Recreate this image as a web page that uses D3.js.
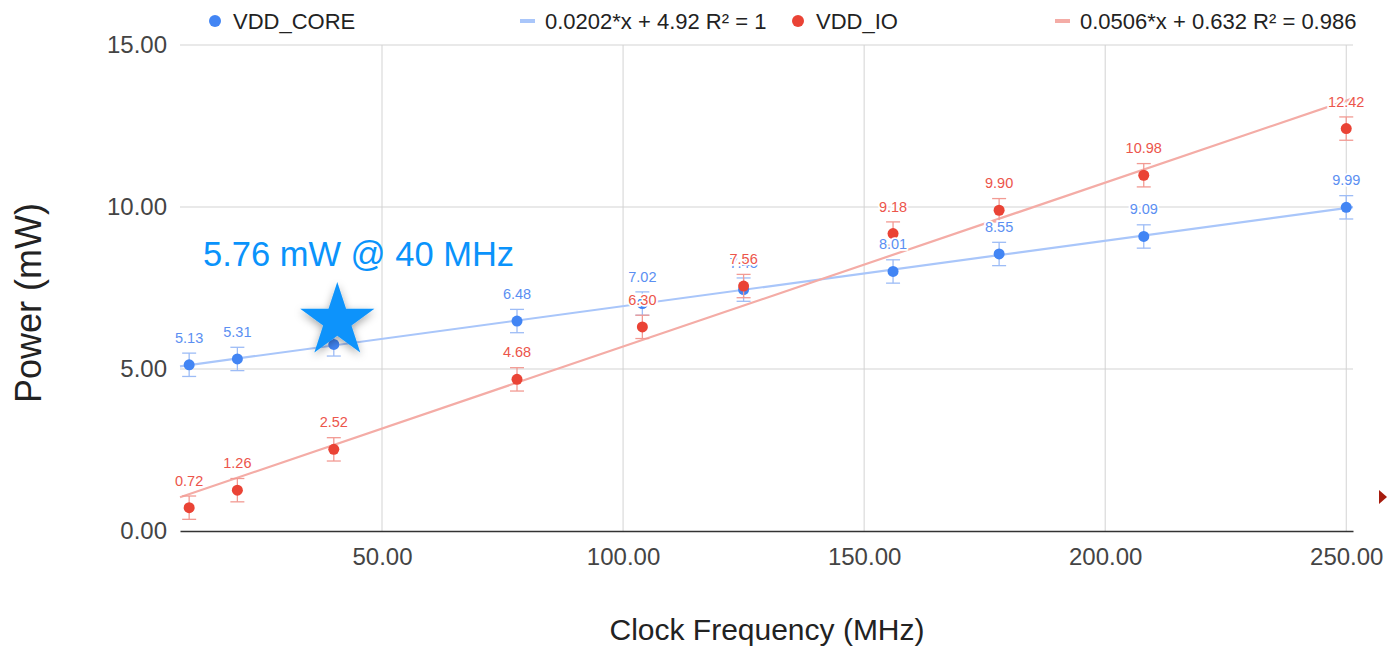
<!DOCTYPE html>
<html><head><meta charset="utf-8">
<script src="https://cdn.jsdelivr.net/npm/d3@7"></script>
<style>body{margin:0;background:#fff;} svg{display:block;font-family:"Liberation Sans",Arial,sans-serif;}</style>
</head><body>
<svg id="c" width="1387" height="646"></svg>
<script>
const freq = [10, 20, 40, 78, 104, 125, 156, 178, 208, 250];
const vddCore = [5.13, 5.31, 5.76, 6.48, 7.02, 7.45, 8.01, 8.55, 9.09, 9.99];
const vddIO = [0.72, 1.26, 2.52, 4.68, 6.30, 7.56, 9.18, 9.90, 10.98, 12.42];
const errBar = 0.36;
const trendCore = {slope: 0.0202, intercept: 4.92, label: "0.0202*x + 4.92 R² = 1"};
const trendIO = {slope: 0.0506, intercept: 0.632, label: "0.0506*x + 0.632 R² = 0.986"};
const xTicks = [50, 100, 150, 200, 250];
const yTicks = [0, 5, 10, 15];
const seriesNames = ["VDD_CORE", "VDD_IO"];
const annotation = {x: 40, text: "5.76 mW @ 40 MHz"};

const FONT = '"Liberation Sans", Arial, sans-serif';
const svg = d3.select("#c");
const x = d3.scaleLinear().domain([8.1, 251.4]).range([180, 1353]);
const y = d3.scaleLinear().domain([0, 15]).range([531, 45]);

const C = {core: "#4285f4", io: "#ea4335", coreT: "#a9c6fa", ioT: "#f4aca6", coreL: "#5b8ff2", ioL: "#ec554b", star: "#0a93fb"};

// grid
const g = svg.append("g");
g.selectAll("line.gy").data(yTicks.filter(d => d > 0)).join("line")
  .attr("x1", 180).attr("x2", 1353).attr("y1", d => y(d)).attr("y2", d => y(d))
  .attr("stroke", "#d3d3d3").attr("stroke-width", 1);
g.selectAll("line.gx").data(xTicks).join("line")
  .attr("x1", d => x(d)).attr("x2", d => x(d)).attr("y1", y(15)).attr("y2", y(0))
  .attr("stroke", "#d3d3d3").attr("stroke-width", 1);

// axes
const ya = svg.append("g").attr("transform", "translate(180,0)")
  .call(d3.axisLeft(y).tickValues(yTicks).tickFormat(d3.format(".2f")).tickSize(0).tickPadding(13));
ya.select(".domain").remove();
ya.selectAll("text").attr("font-size", 24).attr("fill", "#444").attr("font-family", FONT);
const xa = svg.append("g").attr("transform", "translate(0," + y(0) + ")")
  .call(d3.axisBottom(x).tickValues(xTicks).tickFormat(d3.format(".2f")).tickSize(0).tickPadding(17));
xa.select(".domain").attr("stroke", "#333").attr("stroke-width", 1.5);
xa.selectAll("text").attr("font-size", 24).attr("fill", "#444").attr("font-family", FONT);

// titles
svg.append("text").attr("x", 767).attr("y", 640).attr("text-anchor", "middle")
  .attr("font-size", 30).attr("fill", "#222").text("Clock Frequency (MHz)");
svg.append("text").attr("transform", "translate(41,303) rotate(-90)").attr("text-anchor", "middle")
  .attr("font-size", 36).attr("fill", "#222").text("Power (mW)");

// trendlines
const x0 = x.domain()[0], x1 = x.domain()[1];
function trend(t, col) {
  svg.append("line").attr("x1", x(x0)).attr("y1", y(t.slope * x0 + t.intercept))
    .attr("x2", x(x1)).attr("y2", y(t.slope * x1 + t.intercept))
    .attr("stroke", col).attr("stroke-width", 2.2);
}
trend(trendCore, C.coreT);
trend(trendIO, C.ioT);

// series: error bars + points
function series(vals, col, ecol) {
  const data = freq.map((f, i) => ({f, v: vals[i]}));
  const gg = svg.append("g");
  gg.selectAll("line.e").data(data).join("line")
    .attr("x1", d => x(d.f)).attr("x2", d => x(d.f))
    .attr("y1", d => y(d.v - errBar)).attr("y2", d => y(d.v + errBar))
    .attr("stroke", ecol).attr("stroke-width", 1.3);
  [-1, 1].forEach(s => {
    gg.selectAll("line.c" + (s + 1)).data(data).join("line")
      .attr("x1", d => x(d.f) - 7).attr("x2", d => x(d.f) + 7)
      .attr("y1", d => y(d.v + s * errBar)).attr("y2", d => y(d.v + s * errBar))
      .attr("stroke", ecol).attr("stroke-width", 1.3);
  });
  gg.selectAll("circle").data(data).join("circle")
    .attr("cx", d => x(d.f)).attr("cy", d => y(d.v)).attr("r", 5.5).attr("fill", col);
  return data;
}
const dCore = series(vddCore, C.core, "#9dbcf6");
const dIO = series(vddIO, C.io, "#f29a93");

function labels(data, lcol) {
  svg.append("g").selectAll("text").data(data).join("text")
    .attr("x", d => x(d.f)).attr("y", d => y(d.v) - 22).attr("text-anchor", "middle")
    .attr("font-size", 14.5).attr("fill", lcol)
    .attr("stroke", "#fff").attr("stroke-width", 3.5).attr("paint-order", "stroke")
    .text(d => d.v.toFixed(2));
}
labels(dCore, C.coreL);
labels(dIO, C.ioL);

// star annotation (overlay)
const ai = freq.indexOf(annotation.x);
const sx = x(annotation.x) + 3.5, sy = y(vddCore[ai]) - 23.5;
const defs = svg.append("defs");
const f = defs.append("filter").attr("id", "sh").attr("x", "-50%").attr("y", "-50%").attr("width", "200%").attr("height", "200%");
f.append("feDropShadow").attr("dx", 0).attr("dy", 3).attr("stdDeviation", 4).attr("flood-color", "#000").attr("flood-opacity", 0.35);
const R = 39, r = R * 0.382;
const starPts = d3.range(10).map(i => {
  const a = -Math.PI / 2 + i * Math.PI / 5, rad = i % 2 ? r : R;
  return [Math.cos(a) * rad, Math.sin(a) * rad];
});
svg.append("path").attr("d", d3.line()(starPts) + "Z").attr("transform", `translate(${sx},${sy})`)
  .attr("fill", C.star).attr("filter", "url(#sh)");
svg.append("text").attr("x", 203).attr("y", 266).attr("font-size", 34.5).attr("fill", C.star).text(annotation.text);

// legend
const lg = svg.append("g").attr("font-size", 22).attr("fill", "#222");
lg.append("circle").attr("cx", 215).attr("cy", 21).attr("r", 6).attr("fill", C.core);
lg.append("text").attr("x", 233).attr("y", 29).text(seriesNames[0]);
lg.append("line").attr("x1", 520).attr("x2", 535).attr("y1", 21).attr("y2", 21).attr("stroke", C.coreT).attr("stroke-width", 4);
lg.append("text").attr("x", 545).attr("y", 29).text(trendCore.label);
lg.append("circle").attr("cx", 798).attr("cy", 21).attr("r", 6).attr("fill", C.io);
lg.append("text").attr("x", 816).attr("y", 29).text(seriesNames[1]);
lg.append("line").attr("x1", 1055).attr("x2", 1070).attr("y1", 21).attr("y2", 21).attr("stroke", C.ioT).attr("stroke-width", 4);
lg.append("text").attr("x", 1080).attr("y", 29).text(trendIO.label);

// page indicator triangle
svg.append("path").attr("d", "M1379,490 L1387,497 L1379,504 Z").attr("fill", "#a61c0e");
</script>
</body></html>
